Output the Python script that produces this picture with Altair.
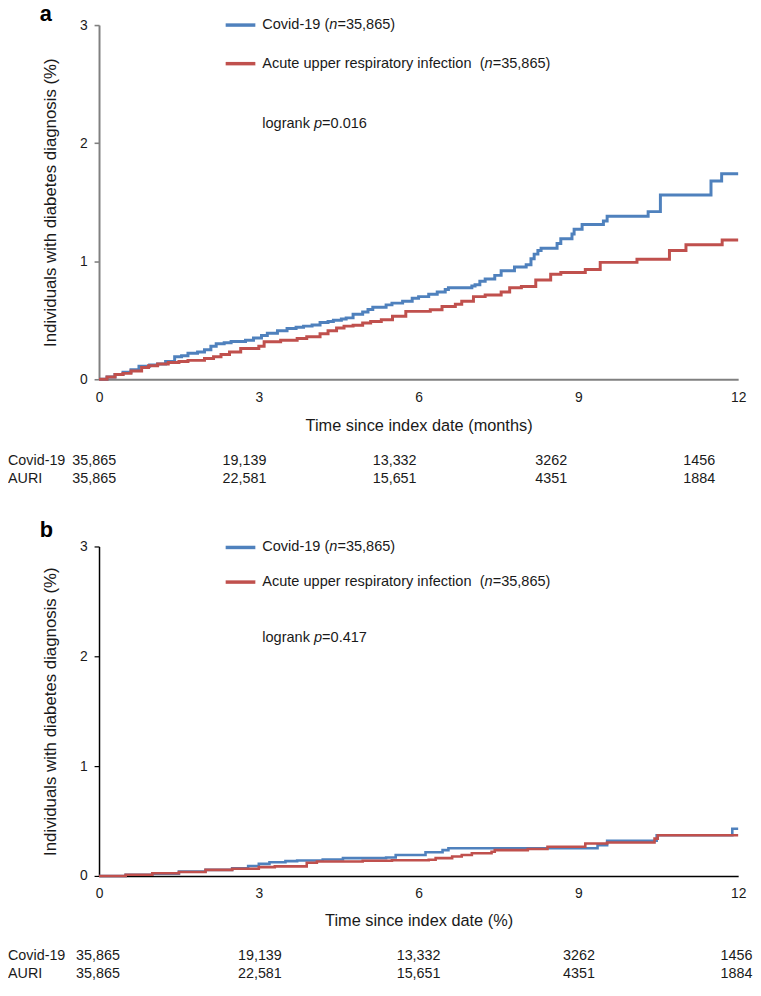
import altair as alt
import pandas as pd

FONT = "Liberation Sans, Arial, Helvetica, sans-serif"
BLUE = "#4f81bd"
RED = "#c0504d"
TXT = "#1a1a1a"
series_names = ["Covid-19", "AURI"]

# ---------------- data ----------------
a_covid_t = [0, 0.15, 0.3, 0.45, 0.6, 0.75, 0.95, 1.1, 1.25, 1.42, 1.55, 1.67, 1.85, 1.98, 2.1, 2.2,
             2.35, 2.48, 2.75, 2.9, 3.05, 3.16, 3.35, 3.53, 3.7, 3.84, 4.0, 4.15, 4.3, 4.4, 4.55,
             4.64, 4.77, 4.95, 5.05, 5.14, 5.39, 5.5, 5.7, 5.88, 6.0, 6.19, 6.35, 6.5, 6.56, 7.0,
             7.06, 7.15, 7.25, 7.43, 7.55, 7.8, 8.02, 8.11, 8.17, 8.24, 8.3, 8.6, 8.67, 8.88, 8.92,
             9.07, 9.47, 9.54, 10.31, 10.54, 11.49, 11.69, 12]
a_covid_v = [0, 0.02, 0.04, 0.06, 0.08, 0.11, 0.12, 0.13, 0.15, 0.19, 0.2, 0.22, 0.23, 0.25, 0.28, 0.3,
             0.31, 0.32, 0.33, 0.35, 0.37, 0.39, 0.41, 0.43, 0.44, 0.45, 0.46, 0.48, 0.49, 0.5, 0.51,
             0.52, 0.55, 0.57, 0.59, 0.61, 0.63, 0.645, 0.66, 0.687, 0.7, 0.72, 0.74, 0.76, 0.776, 0.79,
             0.8, 0.83, 0.85, 0.88, 0.92, 0.95, 0.97, 1.02, 1.06, 1.09, 1.11, 1.15, 1.19, 1.23, 1.27,
             1.31, 1.34, 1.38, 1.42, 1.56, 1.68, 1.74, 1.74]

a_auri_t = [0, 0.15, 0.3, 0.45, 0.6, 0.8, 0.93, 1.1, 1.3, 1.5, 1.67, 1.98, 2.15, 2.29, 2.45, 2.66,
            3.0, 3.1, 3.41, 3.72, 3.9, 4.15, 4.3, 4.46, 4.6, 4.77, 4.95, 5.1, 5.3, 5.51, 5.76, 6.22,
            6.44, 6.69, 6.81, 7.03, 7.25, 7.55, 7.71, 7.93, 8.2, 8.48, 8.67, 9.13, 9.41, 10.1, 10.71,
            11.02, 11.7, 12]
a_auri_v = [0, 0.02, 0.04, 0.05, 0.07, 0.1, 0.115, 0.13, 0.142, 0.15, 0.16, 0.176, 0.19, 0.21, 0.23, 0.26,
            0.28, 0.318, 0.33, 0.346, 0.36, 0.385, 0.41, 0.435, 0.45, 0.458, 0.477, 0.49, 0.505, 0.533, 0.575, 0.589,
            0.617, 0.636, 0.66, 0.7, 0.714, 0.74, 0.776, 0.785, 0.84, 0.89, 0.905, 0.93, 0.99, 1.016, 1.09,
            1.14, 1.18, 1.18]

b_covid_t = [0, 0.5, 1.0, 1.5, 2.0, 2.5, 2.8, 3.0, 3.2, 3.5, 3.72, 4.2, 4.58, 5.39, 5.57, 6.13, 6.45,
             6.56, 9.36, 9.54, 10.47, 11.89, 12]
b_covid_v = [0, 0.01, 0.02, 0.04, 0.055, 0.07, 0.09, 0.11, 0.125, 0.135, 0.14, 0.15, 0.162, 0.168, 0.19,
             0.216, 0.235, 0.252, 0.28, 0.32, 0.371, 0.43, 0.43]

b_auri_t = [0, 0.5, 1.0, 1.5, 2.0, 2.5, 3.0, 3.3, 3.9, 4.09, 4.95, 5.5, 6.19, 6.32, 6.63, 6.81, 7.0,
            7.37, 7.43, 8.05, 8.42, 9.13, 9.54, 10.43, 10.49, 12]
b_auri_v = [0, 0.01, 0.025, 0.035, 0.055, 0.065, 0.08, 0.087, 0.12, 0.132, 0.138, 0.142, 0.147, 0.162,
            0.177, 0.19, 0.207, 0.22, 0.235, 0.245, 0.266, 0.296, 0.305, 0.34, 0.371, 0.371]

x_ticks = [0, 3, 6, 9, 12]
y_ticks = [0, 1, 2, 3]
risk_covid = ["35,865", "19,139", "13,332", "3262", "1456"]
risk_auri = ["35,865", "22,581", "15,651", "4351", "1884"]
row_names = ["Covid-19", "AURI"]

# (text, italic) pieces; trailing spaces only advance the next piece
legend_covid = [("Covid-19 (", False), ("n", True), ("=35,865)", False)]
legend_auri = [("Acute upper respiratory infection  ", False), ("(", False), ("n", True), ("=35,865)", False)]
logrank_a = [("logrank ", False), ("p", True), ("=0.016", False)]
logrank_b = [("logrank ", False), ("p", True), ("=0.417", False)]

y_title = "Individuals with diabetes diagnosis (%)"
x_title_a = "Time since index date (months)"
x_title_b = "Time since index date (%)"

# ---------------- layout ----------------
W = 646
risk_x_a = [-0.09, 2.73, 5.55, 8.49, 11.27]
risk_x_b = [-0.02, 3.02, 6.0, 9.01, 11.97]
LEG_SIZE = 14.7

ARIAL = {'C': 722, 'o': 556, 'v': 500, 'i': 222, 'd': 556, '-': 333, '1': 556, '9': 556, ' ': 278,
         '(': 333, ')': 333, 'n': 556, '=': 584, '3': 556, '5': 556, ',': 278, '8': 556, '6': 556,
         'A': 667, 'c': 500, 'u': 556, 't': 278, 'e': 556, 'p': 556, 'r': 333, 's': 500, 'a': 556,
         'y': 500, 'f': 278, 'l': 222, 'g': 556, 'k': 500, '0': 556, '.': 278, '4': 556, '7': 556,
         '2': 556}


def tw(s, size):
    return sum(ARIAL.get(ch, 556) for ch in s) * size / 1000.0


def one():
    return pd.DataFrame({"k": [0]})


def pieces(parts, x0, y, size):
    layers = []
    x = x0
    for s, ital in parts:
        layers.append(
            alt.Chart(one()).mark_text(
                align="left", baseline="middle", font=FONT, fontSize=size,
                fontStyle="italic" if ital else "normal", color=TXT
            ).encode(x=alt.value(x), y=alt.value(y), text=alt.value(s.strip()))
        )
        x += tw(s, size)
    return layers


def panel(letter, H, cov, auri, axis_col, dom_w, x_title, leg_y, risk_y, risk_x, lw, letter_y, logrank,
          title_pad):
    df = pd.DataFrame({
        "t": cov[0] + auri[0],
        "v": cov[1] + auri[1],
        "group": [series_names[0]] * len(cov[0]) + [series_names[1]] * len(auri[0]),
    })
    x = alt.X("t:Q", scale=alt.Scale(domain=[0, 12], nice=False),
              axis=alt.Axis(values=x_ticks, format="d", title=x_title, ticks=False, labelPadding=11,
                            labelFontSize=14, titleFontSize=16.5, titleFontWeight="normal",
                            titlePadding=title_pad, domainColor=axis_col, domainWidth=dom_w,
                            labelColor=TXT, titleColor=TXT, labelFlush=False))
    y = alt.Y("v:Q", scale=alt.Scale(domain=[0, 3], nice=False),
              axis=alt.Axis(values=y_ticks, format="d", title=y_title, tickSize=5, tickColor=axis_col,
                            tickWidth=dom_w * 0.8, domainColor=axis_col, domainWidth=dom_w,
                            labelPadding=7, labelFontSize=14, titleFontSize=17, titleFontWeight="normal",
                            titlePadding=20, labelColor=TXT, titleColor=TXT))
    lines = alt.Chart(df).mark_line(interpolate="step-after", strokeWidth=lw).encode(
        x=x, y=y,
        color=alt.Color("group:N", scale=alt.Scale(domain=series_names, range=[BLUE, RED]), legend=None),
    )
    layers = [lines]
    # legend
    for col, ly, parts in [(BLUE, leg_y[0], legend_covid), (RED, leg_y[1], legend_auri)]:
        layers.append(
            alt.Chart(one()).mark_rule(color=col, strokeWidth=3.5).encode(
                x=alt.value(128), x2=alt.value(158), y=alt.value(ly))
        )
        layers += pieces(parts, 165, ly, LEG_SIZE)
    layers += pieces(logrank, 165, leg_y[2], LEG_SIZE)
    # panel letter
    layers.append(
        alt.Chart(one()).mark_text(
            align="left", baseline="alphabetic", font=FONT, fontSize=22, fontWeight="bold", color="#000"
        ).encode(x=alt.value(-60), y=alt.value(letter_y), text=alt.value(letter))
    )
    # numbers at risk
    for ry, nm, vals in [(risk_y[0], row_names[0], risk_covid), (risk_y[1], row_names[1], risk_auri)]:
        rdf = pd.DataFrame({"t": risk_x, "label": vals})
        layers.append(
            alt.Chart(rdf).mark_text(align="center", baseline="middle", font=FONT, fontSize=14.5,
                                     color=TXT).encode(
                x=alt.X("t:Q"), y=alt.value(ry), text="label:N")
        )
        layers.append(
            alt.Chart(one()).mark_text(
                align="left", baseline="middle", font=FONT, fontSize=14.5, color=TXT
            ).encode(x=alt.value(-92), y=alt.value(ry), text=alt.value(nm))
        )
    return alt.layer(*layers).properties(width=W, height=H)


pa = panel("a", 358, (a_covid_t, a_covid_v), (a_auri_t, a_auri_v), "#808080", 2, x_title_a,
           [0, 39, 100], [441, 459], risk_x_a, 3, -4, logrank_a, 14)
pb = panel("b", 333, (b_covid_t, b_covid_v), (b_auri_t, b_auri_v), "#000000", 1.5, x_title_b,
           [1, 36, 93], [414, 432], risk_x_b, 2.6, -10, logrank_b, 12)

chart = alt.vconcat(pa, pb, spacing=33).properties(
    padding={"left": 0, "top": -10, "right": 0, "bottom": 0}
).configure_view(stroke=None).configure_axis(
    grid=False, labelFont=FONT, titleFont=FONT
)

chart.save("out.html", embed_options={"renderer": "svg", "actions": False})
